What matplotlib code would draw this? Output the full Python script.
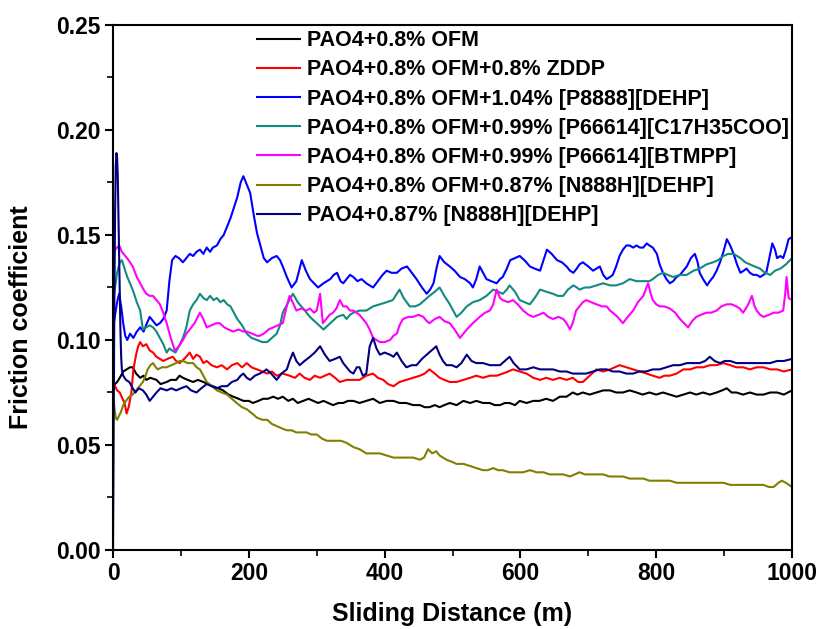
import numpy as np
import matplotlib.pyplot as plt

plt.rcParams['font.family'] = ['Liberation Sans', 'DejaVu Sans']
plt.rcParams['font.weight'] = 'bold'

labels = [
    'PAO4+0.8% OFM',
    'PAO4+0.8% OFM+0.8% ZDDP',
    'PAO4+0.8% OFM+1.04% [P8888][DEHP]',
    'PAO4+0.8% OFM+0.99% [P66614][C17H35COO]',
    'PAO4+0.8% OFM+0.99% [P66614][BTMPP]',
    'PAO4+0.8% OFM+0.87% [N888H][DEHP]',
    'PAO4+0.87% [N888H][DEHP]',
]
colors = ['#000000', '#ff0000', '#0000ff', '#138a80', '#ff00ff', '#808000', '#000080']

# (sliding distance m, friction coefficient)
ofm = [(0,0.076),(3,0.079),(6,0.080),(10,0.082),(15,0.085),(20,0.086),(25,0.087),(29,0.087),(34,0.084),(40,0.082),
       (45,0.083),(49,0.081),(55,0.082),(64,0.081),(70,0.079),(79,0.080),(85,0.081),(93,0.081),(98,0.083),(103,0.082),
       (110,0.081),(118,0.080),(125,0.081),(133,0.080),(140,0.079),(147,0.078),(155,0.077),(162,0.076),(170,0.074),(177,0.073),
       (185,0.072),(192,0.071),(200,0.071),(206,0.070),(214,0.071),(221,0.072),(228,0.072),(236,0.073),(243,0.072),(250,0.073),
       (258,0.071),(265,0.072),(272,0.070),(280,0.071),(288,0.072),(295,0.071),(302,0.070),(310,0.071),(317,0.070),(324,0.069),
       (332,0.070),(339,0.070),(346,0.071),(354,0.071),(363,0.070),(373,0.071),(383,0.072),(393,0.070),(403,0.071),(413,0.071),
       (422,0.070),(432,0.070),(442,0.069),(452,0.069),(459,0.068),(466,0.068),(474,0.069),(481,0.068),(488,0.069),(496,0.070),
       (506,0.069),(516,0.071),(526,0.070),(535,0.071),(545,0.070),(555,0.070),(562,0.069),(570,0.069),(577,0.070),(584,0.070),
       (592,0.069),(599,0.071),(609,0.070),(619,0.071),(628,0.071),(638,0.072),(648,0.071),(658,0.073),(668,0.073),(677,0.075),
       (684,0.074),(692,0.075),(702,0.074),(712,0.075),(722,0.076),(732,0.076),(741,0.075),(751,0.075),(761,0.076),(771,0.075),
       (780,0.074),(790,0.075),(800,0.074),(810,0.075),(820,0.074),(830,0.073),(840,0.074),(850,0.075),(859,0.074),(869,0.075),
       (879,0.074),(889,0.075),(897,0.076),(904,0.077),(911,0.075),(918,0.075),(928,0.074),(938,0.075),(948,0.074),(958,0.074),
       (968,0.075),(978,0.075),(988,0.074),(1000,0.076)]

zddp = [(0,0.080),(3,0.078),(6,0.076),(10,0.075),(14,0.072),(17,0.070),(20,0.065),(23,0.068),(27,0.075),(30,0.086),
        (34,0.093),(37,0.097),(40,0.099),(44,0.097),(49,0.098),(54,0.095),(59,0.094),(64,0.092),(69,0.091),(74,0.090),
        (80,0.091),(88,0.092),(93,0.090),(98,0.089),(105,0.091),(113,0.094),(118,0.091),(123,0.093),(128,0.092),(133,0.089),
        (138,0.090),(145,0.088),(153,0.087),(160,0.088),(168,0.086),(175,0.088),(183,0.089),(190,0.087),(197,0.089),(204,0.087),
        (212,0.086),(220,0.085),(227,0.084),(234,0.085),(241,0.083),(250,0.084),(260,0.083),(268,0.082),(275,0.084),(282,0.082),
        (290,0.081),(297,0.083),(305,0.082),(312,0.083),(319,0.084),(327,0.082),(334,0.080),(344,0.081),(354,0.081),(363,0.081),
        (373,0.083),(383,0.084),(390,0.082),(398,0.081),(405,0.079),(413,0.078),(422,0.080),(432,0.081),(442,0.082),(452,0.083),
        (459,0.084),(466,0.086),(474,0.084),(481,0.082),(488,0.081),(496,0.080),(506,0.080),(516,0.081),(526,0.082),(535,0.083),
        (545,0.082),(555,0.083),(565,0.083),(574,0.084),(582,0.085),(589,0.086),(599,0.085),(609,0.084),(619,0.082),(629,0.081),
        (638,0.082),(648,0.081),(658,0.082),(668,0.081),(677,0.082),(685,0.080),(692,0.080),(702,0.083),(712,0.086),(722,0.085),
        (732,0.086),(739,0.087),(746,0.088),(756,0.087),(766,0.086),(776,0.085),(786,0.084),(795,0.083),(805,0.082),(812,0.083),
        (820,0.083),(830,0.084),(840,0.086),(850,0.086),(859,0.087),(869,0.087),(879,0.088),(889,0.088),(899,0.089),(909,0.088),
        (918,0.087),(928,0.087),(938,0.086),(948,0.087),(958,0.087),(968,0.086),(978,0.086),(988,0.085),(1000,0.086)]

p8888 = [(0,0.105),(3,0.112),(6,0.118),(9,0.122),(12,0.116),(15,0.108),(18,0.102),(21,0.100),(25,0.103),(30,0.101),
         (35,0.104),(40,0.106),(45,0.104),(50,0.108),(54,0.111),(59,0.109),(64,0.107),(69,0.108),(74,0.110),(79,0.114),
         (83,0.128),(87,0.138),(92,0.140),(97,0.139),(103,0.137),(108,0.139),(113,0.141),(118,0.140),(123,0.142),(128,0.143),
         (133,0.141),(138,0.144),(143,0.142),(147,0.144),(153,0.145),(158,0.148),(163,0.150),(168,0.154),(173,0.158),(178,0.163),
         (183,0.168),(188,0.175),(192,0.178),(197,0.174),(202,0.170),(207,0.160),(212,0.151),(217,0.145),(222,0.139),(227,0.137),
         (234,0.139),(241,0.140),(246,0.138),(250,0.135),(256,0.130),(263,0.125),(270,0.128),(278,0.138),(284,0.133),(290,0.129),
         (296,0.127),(302,0.125),(310,0.127),(315,0.128),(320,0.129),(325,0.131),(330,0.132),(335,0.128),(339,0.127),(344,0.129),
         (349,0.131),(354,0.130),(360,0.128),(366,0.129),(373,0.127),(378,0.126),(383,0.125),(390,0.128),(397,0.131),(403,0.133),
         (410,0.132),(418,0.132),(425,0.134),(433,0.135),(440,0.132),(447,0.129),(455,0.125),(462,0.122),(467,0.124),(472,0.127),
         (477,0.135),(481,0.140),(488,0.137),(496,0.135),(503,0.133),(511,0.130),(518,0.129),(526,0.127),(530,0.125),(535,0.129),
         (540,0.135),(545,0.132),(550,0.129),(557,0.128),(565,0.127),(570,0.129),(574,0.130),(580,0.134),(585,0.138),(592,0.139),
         (599,0.140),(606,0.138),(614,0.135),(621,0.134),(629,0.133),(634,0.138),(639,0.143),(646,0.141),(654,0.138),(661,0.137),
         (668,0.135),(673,0.133),(678,0.132),(683,0.134),(687,0.136),(692,0.137),(700,0.135),(707,0.133),(712,0.134),(717,0.135),
         (722,0.131),(727,0.129),(732,0.130),(736,0.131),(741,0.135),(746,0.140),(751,0.143),(756,0.145),(761,0.145),(766,0.144),
         (771,0.145),(776,0.144),(781,0.144),(786,0.146),(790,0.145),(795,0.144),(801,0.141),(805,0.136),(810,0.132),(815,0.129),
         (820,0.127),(825,0.128),(830,0.130),(835,0.131),(840,0.133),(845,0.135),(851,0.139),(857,0.141),(861,0.137),(864,0.132),
         (869,0.129),(875,0.126),(879,0.128),(884,0.130),(889,0.133),(894,0.137),(899,0.142),(904,0.148),(909,0.145),(914,0.141),
         (919,0.136),(924,0.132),(929,0.133),(933,0.134),(938,0.132),(943,0.131),(948,0.131),(953,0.130),(958,0.131),(962,0.132),
         (966,0.138),(971,0.146),(975,0.143),(978,0.139),(983,0.140),(987,0.139),(991,0.143),(995,0.148),(1000,0.149)]

c17 = [(0,0.118),(3,0.125),(6,0.132),(10,0.137),(13,0.138),(17,0.134),(21,0.130),(25,0.127),(30,0.123),(35,0.118),
       (40,0.114),(44,0.105),(49,0.106),(54,0.107),(59,0.106),(64,0.104),(69,0.101),(74,0.098),(79,0.094),(83,0.096),
       (87,0.095),(92,0.094),(97,0.097),(103,0.101),(108,0.106),(113,0.114),(118,0.117),(123,0.119),(128,0.122),(133,0.120),
       (138,0.119),(143,0.121),(148,0.119),(153,0.120),(158,0.118),(163,0.119),(168,0.117),(173,0.116),(178,0.113),(183,0.110),
       (190,0.107),(197,0.103),(204,0.101),(212,0.100),(220,0.099),(227,0.099),(234,0.101),(241,0.103),(246,0.107),(250,0.113),
       (258,0.118),(265,0.122),(272,0.118),(280,0.115),(290,0.111),(300,0.108),(310,0.105),(320,0.108),(330,0.111),(339,0.112),
       (344,0.110),(349,0.112),(354,0.113),(363,0.114),(373,0.114),(383,0.116),(393,0.117),(403,0.118),(412,0.119),(418,0.122),
       (422,0.124),(428,0.120),(437,0.116),(445,0.116),(452,0.117),(459,0.119),(466,0.121),(474,0.123),(481,0.125),(488,0.121),
       (496,0.117),(501,0.114),(506,0.111),(513,0.113),(521,0.116),(530,0.118),(540,0.119),(550,0.121),(560,0.124),(567,0.123),
       (574,0.122),(580,0.124),(584,0.126),(592,0.123),(599,0.119),(606,0.118),(614,0.117),(621,0.120),(629,0.124),(638,0.123),
       (648,0.122),(655,0.121),(663,0.121),(670,0.124),(678,0.126),(683,0.125),(687,0.124),(695,0.125),(702,0.125),(712,0.126),
       (722,0.127),(732,0.126),(741,0.126),(751,0.127),(761,0.129),(771,0.128),(781,0.128),(790,0.128),(795,0.129),(803,0.131),
       (810,0.132),(817,0.131),(825,0.130),(835,0.131),(845,0.131),(855,0.133),(864,0.134),(874,0.136),(884,0.137),(891,0.138),
       (899,0.140),(906,0.141),(914,0.141),(919,0.140),(924,0.139),(931,0.137),(938,0.136),(945,0.135),(953,0.134),(960,0.132),
       (968,0.131),(975,0.133),(983,0.134),(991,0.136),(1000,0.139)]

btmpp = [(0,0.140),(3,0.143),(6,0.144),(9,0.145),(13,0.142),(18,0.140),(23,0.138),(29,0.135),(35,0.130),(40,0.127),
         (45,0.124),(49,0.122),(54,0.121),(59,0.121),(64,0.119),(69,0.117),(74,0.113),(79,0.108),(85,0.101),(91,0.095),
         (97,0.097),(103,0.100),(108,0.103),(113,0.105),(120,0.108),(128,0.113),(133,0.110),(138,0.106),(145,0.107),(152,0.108),
         (157,0.108),(164,0.106),(170,0.105),(177,0.104),(185,0.105),(192,0.104),(197,0.104),(205,0.103),(212,0.102),(216,0.102),
         (222,0.103),(229,0.105),(236,0.106),(243,0.107),(250,0.108),(255,0.115),(260,0.121),(266,0.117),(270,0.114),(277,0.115),
         (285,0.114),(290,0.115),(296,0.113),(300,0.114),(305,0.122),(309,0.108),(314,0.110),(319,0.112),(324,0.113),(329,0.115),
         (334,0.119),(339,0.116),(344,0.116),(349,0.114),(354,0.114),(363,0.112),(373,0.108),(378,0.105),(383,0.101),(388,0.100),
         (393,0.099),(400,0.099),(408,0.100),(413,0.102),(418,0.103),(422,0.107),(427,0.110),(435,0.111),(442,0.111),(450,0.112),
         (457,0.111),(462,0.109),(466,0.108),(474,0.110),(481,0.111),(488,0.109),(496,0.108),(503,0.105),(511,0.101),(516,0.103),
         (521,0.105),(530,0.108),(540,0.111),(548,0.113),(555,0.114),(560,0.117),(565,0.124),(570,0.120),(574,0.119),(582,0.118),
         (589,0.119),(596,0.117),(604,0.114),(612,0.112),(619,0.111),(627,0.112),(634,0.113),(641,0.111),(648,0.110),(656,0.111),
         (663,0.110),(668,0.108),(673,0.105),(677,0.108),(682,0.114),(687,0.116),(692,0.118),(697,0.119),(704,0.118),(712,0.117),
         (720,0.116),(727,0.116),(732,0.114),(736,0.113),(743,0.111),(751,0.108),(758,0.111),(766,0.114),(773,0.118),(781,0.121),
         (788,0.127),(792,0.122),(795,0.119),(800,0.117),(805,0.116),(812,0.116),(820,0.115),(828,0.113),(835,0.110),(841,0.108),
         (847,0.106),(853,0.109),(859,0.111),(866,0.112),(874,0.113),(881,0.113),(889,0.114),(896,0.116),(904,0.117),(911,0.117),
         (918,0.116),(923,0.115),(928,0.113),(934,0.116),(941,0.121),(945,0.116),(948,0.114),(953,0.112),(958,0.111),(966,0.112),
         (973,0.113),(980,0.113),(987,0.114),(990,0.122),(992,0.130),(995,0.120),(1000,0.119)]

n888h_ofm = [(0,0.075),(2,0.068),(4,0.063),(6,0.062),(9,0.064),(12,0.066),(15,0.069),(19,0.071),(24,0.073),(29,0.074),
             (34,0.076),(39,0.078),(44,0.080),(48,0.083),(51,0.086),(55,0.088),(59,0.089),(63,0.087),(66,0.086),(72,0.087),
             (79,0.087),(86,0.088),(93,0.089),(98,0.090),(103,0.090),(110,0.089),(118,0.089),(123,0.087),(128,0.086),(133,0.083),
             (138,0.080),(146,0.078),(153,0.076),(160,0.075),(168,0.074),(175,0.072),(182,0.070),(190,0.068),(197,0.067),(205,0.065),
             (212,0.063),(220,0.062),(227,0.062),(234,0.060),(241,0.059),(248,0.058),(256,0.057),(263,0.057),(270,0.056),(278,0.056),
             (285,0.056),(292,0.055),(300,0.055),(308,0.053),(315,0.052),(322,0.052),(329,0.052),(336,0.052),(344,0.051),(349,0.050),
             (354,0.049),(363,0.048),(373,0.046),(383,0.046),(393,0.046),(403,0.045),(413,0.044),(422,0.044),(432,0.044),(442,0.044),
             (452,0.043),(458,0.044),(464,0.048),(470,0.046),(476,0.047),(481,0.045),(486,0.044),(491,0.043),(499,0.042),(506,0.041),
             (516,0.041),(526,0.040),(535,0.039),(545,0.038),(552,0.038),(560,0.039),(567,0.038),(574,0.038),(584,0.037),(594,0.037),
             (604,0.037),(614,0.038),(624,0.037),(634,0.037),(643,0.036),(653,0.036),(663,0.036),(673,0.035),(680,0.036),(687,0.037),
             (695,0.036),(702,0.036),(712,0.036),(722,0.036),(731,0.035),(741,0.035),(751,0.035),(761,0.034),(771,0.034),(781,0.034),
             (790,0.033),(800,0.033),(810,0.033),(820,0.033),(830,0.032),(840,0.032),(850,0.032),(859,0.032),(869,0.032),(879,0.032),
             (889,0.032),(899,0.032),(909,0.031),(918,0.031),(928,0.031),(938,0.031),(948,0.031),(958,0.031),(966,0.030),(973,0.030),
             (980,0.032),(985,0.033),(991,0.032),(1000,0.030)]

n888h = [(0,0.0),(1,0.060),(2,0.120),(3,0.160),(4,0.182),(5,0.189),(6,0.187),(7,0.178),(8,0.160),(9,0.140),
         (10,0.120),(11,0.103),(12,0.092),(13,0.086),(15,0.083),(19,0.081),(24,0.080),(29,0.077),(33,0.075),(38,0.077),
         (44,0.076),(49,0.074),(54,0.071),(59,0.073),(64,0.075),(70,0.077),(79,0.076),(86,0.077),(93,0.076),(100,0.077),
         (108,0.078),(115,0.076),(123,0.075),(130,0.077),(138,0.079),(145,0.078),(153,0.077),(160,0.078),(168,0.078),(175,0.080),
         (183,0.081),(188,0.083),(192,0.084),(197,0.082),(202,0.081),(209,0.083),(216,0.084),(222,0.085),(226,0.086),(233,0.084),
         (241,0.081),(248,0.084),(256,0.086),(260,0.090),(265,0.094),(270,0.090),(275,0.088),(282,0.090),(290,0.092),(297,0.094),
         (305,0.097),(312,0.093),(319,0.090),(327,0.091),(334,0.092),(339,0.089),(344,0.087),(349,0.085),(354,0.084),(359,0.087),
         (363,0.087),(368,0.083),(373,0.084),(378,0.097),(383,0.101),(388,0.096),(393,0.093),(400,0.094),(408,0.093),(413,0.092),
         (418,0.094),(425,0.090),(432,0.087),(440,0.088),(447,0.088),(455,0.091),(462,0.093),(469,0.095),(476,0.097),(481,0.093),
         (486,0.090),(491,0.088),(499,0.088),(506,0.087),(513,0.089),(521,0.093),(528,0.090),(535,0.089),(545,0.089),(555,0.088),
         (562,0.088),(570,0.088),(577,0.090),(584,0.092),(590,0.089),(599,0.086),(609,0.086),(619,0.087),(629,0.086),(638,0.086),
         (648,0.086),(658,0.085),(668,0.085),(677,0.084),(687,0.084),(697,0.084),(707,0.085),(717,0.086),(727,0.086),(736,0.085),
         (746,0.085),(756,0.084),(766,0.084),(775,0.085),(785,0.085),(795,0.086),(805,0.086),(815,0.087),(825,0.088),(835,0.088),
         (845,0.089),(855,0.089),(864,0.089),(872,0.090),(879,0.092),(886,0.090),(894,0.089),(901,0.090),(909,0.090),(918,0.089),
         (928,0.089),(938,0.089),(948,0.089),(958,0.089),(968,0.089),(978,0.090),(988,0.090),(1000,0.091)]

series = [ofm, zddp, p8888, c17, btmpp, n888h_ofm, n888h]

fig = plt.figure(figsize=(8.22, 6.29), dpi=100)
ax = fig.add_axes([0.1375, 0.1256, 0.826, 0.8347])

for data, lab, col in zip(series, labels, colors):
    arr = np.array(data)
    ax.plot(arr[:, 0], arr[:, 1], color=col, lw=1.5, label=lab)

ax.set_xlim(0, 1000)
ax.set_ylim(0, 0.25)
ax.set_xticks(range(0, 1001, 200))
ax.set_xticks(range(100, 1000, 200), minor=True)
ax.set_yticks(np.arange(0, 0.251, 0.05))
ax.set_yticks(np.arange(0.025, 0.25, 0.05), minor=True)
ax.set_yticklabels(['%.2f' % v for v in np.arange(0, 0.251, 0.05)])
ax.tick_params(which='major', direction='out', length=6, width=1.5, labelsize=16.5, pad=3)
ax.tick_params(which='minor', direction='out', length=4, width=1.2)
ax.tick_params(top=False, right=False)
for s in ax.spines.values():
    s.set_linewidth(1.5)

ax.set_xlabel('Sliding Distance (m)', fontsize=18, fontweight='bold', labelpad=12)
ax.set_ylabel('Friction coefficient', fontsize=18, fontweight='bold')
ax.yaxis.set_label_coords(-0.118, 0.444)

ax.legend(loc='upper left', bbox_to_anchor=(0.212, 0.99), frameon=False,
          fontsize=15.5, handlelength=2.0, handletextpad=0.33, labelspacing=0.38,
          borderpad=0, borderaxespad=0)

fig.savefig('out.png', dpi=100)
